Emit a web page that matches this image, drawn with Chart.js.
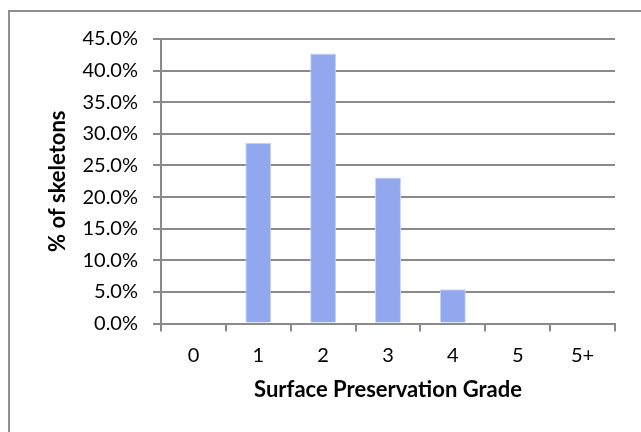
<!DOCTYPE html>
<html>
<head>
<meta charset="utf-8">
<script src="https://cdn.jsdelivr.net/npm/chart.js@4.4.1/dist/chart.umd.min.js"></script>
<style>
    html, body { margin: 0; padding: 0; background: #fff; }
    #frame {
        position: absolute; left: 8px; top: 10px;
        width: 700px; height: 500px;
        border: 2px solid #8e8e8e;
    }
    #wrap { position: absolute; left: 0; top: 0; width: 641px; height: 432px; }
</style>
</head>
<body>
<div id="frame"></div>
<div id="wrap"><canvas id="myChart" width="641" height="432"></canvas></div>
<script>
var grades = ["0", "1", "2", "3", "4", "5", "5+"];
var percentSkeletons = [0, 28.6, 42.7, 23.1, 5.4, 0, 0];
var yTicks = [0, 5, 10, 15, 20, 25, 30, 35, 40, 45];

var fontFamily = "Lato, 'Noto Sans', sans-serif";
var gridGray = "#8a8a8a";

function createChart() {
    const ctx = document.getElementById('myChart');
    new Chart(ctx, {
        type: 'bar',
        data: {
            labels: grades,
            datasets: [{
                label: '% of skeletons',
                data: percentSkeletons,
                backgroundColor: '#91a8ee',
                borderColor: '#c9d5f8',
                borderWidth: 1,
                barPercentage: 0.8,
                categoryPercentage: 0.5
            }]
        },
        options: {
            responsive: false,
            animation: false,
            layout: { padding: { left: 0, top: 39, right: 26, bottom: 0 } },
            plugins: {
                legend: { display: false },
                tooltip: { enabled: false }
            },
            scales: {
                x: {
                    afterFit: (scale) => { scale.height = 108.5; },
                    grid: {
                        offset: true,
                        drawOnChartArea: false,
                        color: gridGray,
                        lineWidth: 2,
                        tickLength: 8
                    },
                    border: { color: gridGray, width: 2 },
                    ticks: {
                        color: '#000',
                        padding: 12,
                        font: { family: fontFamily, size: 20 }
                    },
                    title: {
                        display: true,
                        text: 'Surface Preservation Grade',
                        color: '#000',
                        padding: { top: 0, bottom: 29 },
                        font: { family: fontFamily, size: 22, weight: 'bold' }
                    }
                },
                y: {
                    min: 0,
                    max: 45,
                    afterFit: (scale) => { scale.width = 161; },
                    afterBuildTicks: (scale) => {
                        scale.ticks = yTicks.map(v => ({ value: v }));
                    },
                    grid: {
                        color: gridGray,
                        lineWidth: 2,
                        tickLength: 8
                    },
                    border: { color: gridGray, width: 2 },
                    ticks: {
                        color: '#000',
                        padding: 15,
                        font: { family: fontFamily, size: 20 },
                        callback: (value) => value.toFixed(1) + '%'
                    },
                    title: {
                        display: true,
                        text: '% of skeletons',
                        color: '#000',
                        padding: { top: 45 },
                        font: { family: fontFamily, size: 22, weight: 'bold' }
                    }
                }
            }
        }
    });
}

createChart();
</script>
</body>
</html>
